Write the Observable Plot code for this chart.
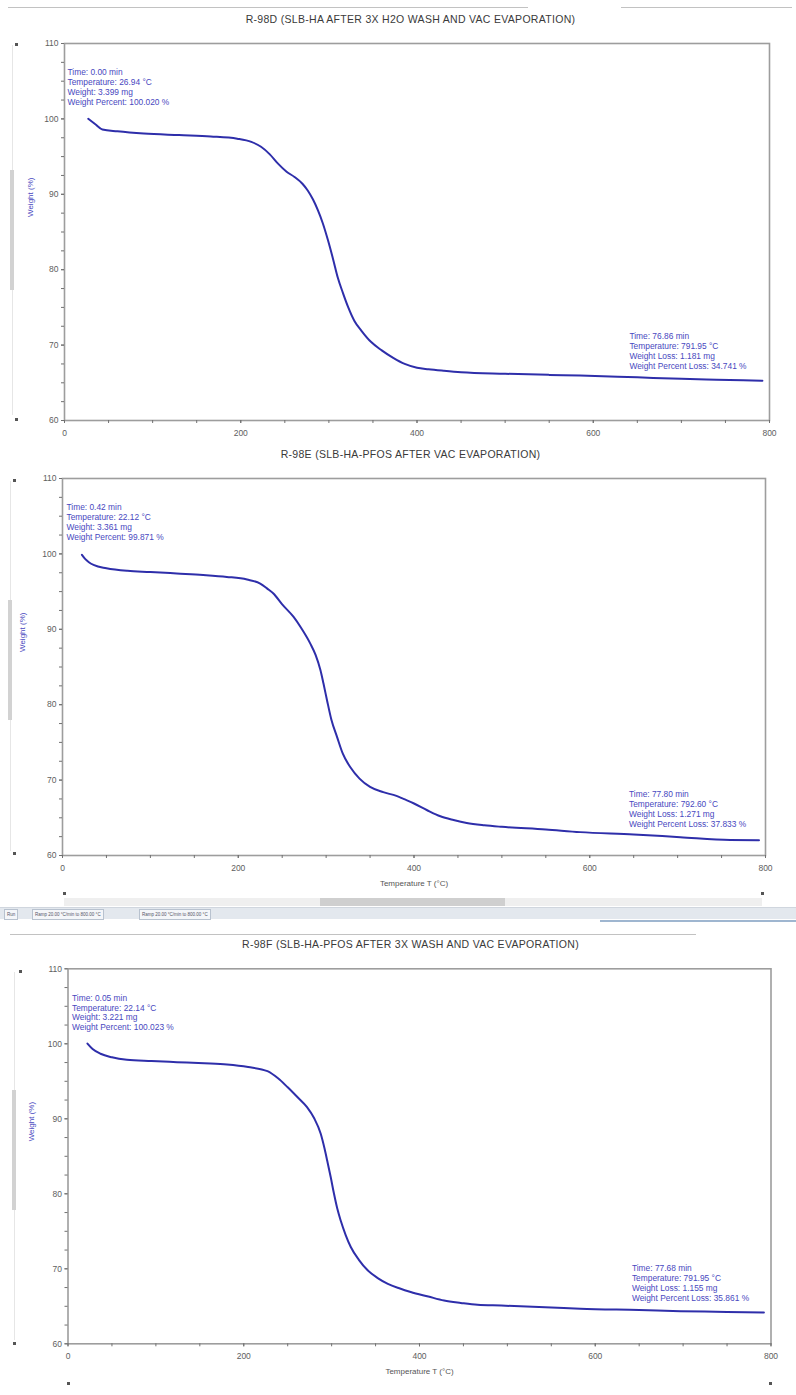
<!DOCTYPE html>
<html>
<head>
<meta charset="utf-8">
<script src="https://cdn.jsdelivr.net/npm/d3@7"></script>
<script src="https://cdn.jsdelivr.net/npm/@observablehq/plot@0.6"></script>
<style>
  body { margin: 0; background: #fff; }
  #page { position: relative; width: 796px; height: 1395px; overflow: hidden; background: #fff;
          font-family: "Liberation Sans", Arial, sans-serif; }
  .title { position: absolute; left: 0; width: 821px; text-align: center; font-size: 10.5px;
           letter-spacing: 0.3px; line-height: 12px; color: #3a3a3a; white-space: nowrap; }
  .panel { position: absolute; left: 0; }
  .rule { position: absolute; background: #c2c2c2; height: 1px; }
  .track { position: absolute; width: 1px; background: #e6e6e6; }
  .thumb { position: absolute; width: 4px; background: #d2d2d2; }
  .dot { position: absolute; width: 3px; height: 3px; background: #555; }
  .scroll { position: absolute; background: #efefef; }
  .scroll-thumb { position: absolute; background: #cfcfcf; }
  .taskbar { position: absolute; left: 0; width: 796px; background: #e3e8ee; border-top: 1px solid #d0d6de; }
  .tab { position: absolute; top: 1px; height: 9px; font-size: 4.5px; line-height: 9px; color: #556;
         border: 1px solid #b8c2cf; background: #f4f6f9; padding: 0 2px; white-space: nowrap; }
</style>
</head>
<body>
<div id="page"></div>
<script>
// ---- chart text ----
const titles = [
  "R-98D (SLB-HA AFTER 3X H2O WASH AND VAC EVAPORATION)",
  "R-98E (SLB-HA-PFOS AFTER VAC EVAPORATION)",
  "R-98F (SLB-HA-PFOS AFTER 3X WASH AND VAC EVAPORATION)"
];
const yAxisLabel = "Weight (%)";
const xAxisLabel = "Temperature T (°C)";

// ---- axis ticks ----
const yMajor = [60, 70, 80, 90, 100, 110];
const yMinor = [60, 62.5, 65, 67.5, 70, 72.5, 75, 77.5, 80, 82.5, 85, 87.5, 90, 92.5, 95, 97.5, 100, 102.5, 105, 107.5, 110];
const xMajor = [0, 200, 400, 600, 800];
const xMinor = [0, 50, 100, 150, 200, 250, 300, 350, 400, 450, 500, 550, 600, 650, 700, 750, 800];

// ---- R-98D: temperature (°C) and weight (%) ----
const r98dTemp = [26.94, 35, 43, 60, 90, 130, 166, 196, 212, 223, 233, 242, 252, 261, 270, 276, 282, 287.5, 293, 299,
  305, 310, 316, 322, 329, 337, 348, 360, 373, 386, 400, 413, 430, 450, 500, 550, 585, 650, 700, 740, 770, 791.95];
const r98dWeight = [100.02, 99.3, 98.6, 98.35, 98.05, 97.85, 97.68, 97.38, 96.95, 96.3, 95.3, 94.1, 93.0, 92.3, 91.4, 90.5,
  89.3, 87.9, 86.2, 83.9, 81.3, 79.0, 76.9, 75.0, 73.2, 71.9, 70.4, 69.3, 68.3, 67.5, 67.0, 66.8, 66.6, 66.4, 66.2,
  66.05, 65.97, 65.72, 65.53, 65.42, 65.34, 65.279];
const r98dStart = ["Time: 0.00 min", "Temperature: 26.94 °C", "Weight: 3.399 mg", "Weight Percent: 100.020 %"];
const r98dEnd = ["Time: 76.86 min", "Temperature: 791.95 °C", "Weight Loss: 1.181 mg", "Weight Percent Loss: 34.741 %"];

// ---- R-98E ----
const r98eTemp = [22.12, 26, 30, 36, 50, 74, 100, 130, 160, 187, 210, 225, 233, 240, 250, 263, 272, 282, 288, 293.5,
  297, 301, 306, 312.5, 319, 327.6, 338, 350, 365, 380, 388, 400, 415, 430, 445, 460, 480, 500, 550, 589, 650, 703, 760, 792.6];
const r98eWeight = [99.871, 99.3, 98.9, 98.5, 98.1, 97.75, 97.6, 97.4, 97.2, 96.95, 96.6, 96.07, 95.4, 94.75, 93.3, 91.64,
  90.1, 88.1, 86.6, 84.6, 82.8, 80.6, 78.0, 75.7, 73.5, 71.7, 70.2, 69.1, 68.4, 67.9, 67.5, 66.9, 66.0, 65.2, 64.7,
  64.3, 64.0, 63.8, 63.45, 63.1, 62.8, 62.43, 62.05, 62.038];
const r98eStart = ["Time: 0.42 min", "Temperature: 22.12 °C", "Weight: 3.361 mg", "Weight Percent: 99.871 %"];
const r98eEnd = ["Time: 77.80 min", "Temperature: 792.60 °C", "Weight Loss: 1.271 mg", "Weight Percent Loss: 37.833 %"];

// ---- R-98F ----
const r98fTemp = [22.14, 28, 37, 50, 67, 95, 124, 155, 181, 205, 227, 239, 250, 261, 272, 280, 287.6, 292, 295, 299,
  302.7, 306.5, 310.4, 316, 321.8, 331, 341, 352, 364, 377, 390, 410, 428, 447, 466, 493, 550, 583, 650, 697, 750, 791.95];
const r98fWeight = [100.023, 99.3, 98.67, 98.2, 97.87, 97.7, 97.55, 97.4, 97.24, 96.9, 96.35, 95.4, 94.2, 92.9, 91.55,
  90.1, 88.0, 86.0, 84.4, 82.2, 80.0, 78.0, 76.4, 74.5, 72.9, 71.2, 69.8, 68.8, 68.0, 67.4, 66.9, 66.3, 65.77, 65.45,
  65.2, 65.1, 64.85, 64.67, 64.5, 64.35, 64.25, 64.162];
const r98fStart = ["Time: 0.05 min", "Temperature: 22.14 °C", "Weight: 3.221 mg", "Weight Percent: 100.023 %"];
const r98fEnd = ["Time: 77.68 min", "Temperature: 791.95 °C", "Weight Loss: 1.155 mg", "Weight Percent Loss: 35.861 %"];

// ---- styling ----
const FONT = "'Liberation Sans', Arial, sans-serif";
const LINE = "#2e2eaa";
const BLUE = "#4848c0";
const AXIS = "#707070";

const page = document.getElementById("page");

function add(cls, css, text) {
  const el = document.createElement("div");
  el.className = cls;
  Object.assign(el.style, css);
  if (text) el.textContent = text;
  page.appendChild(el);
  return el;
}

// panel layout: svg top, frame box, label offsets
const panels = [
  { title: titles[0], titleTop: 13, temp: r98dTemp, weight: r98dWeight, start: r98dStart, end: r98dEnd,
    top: 25, mt: 18, plotH: 377, mb: 30, left: 64, right: 769, ylab: 34, sdx: 3, edx: -133, edy: -30, xLabel: false },
  { title: titles[1], titleTop: 448, temp: r98eTemp, weight: r98eWeight, start: r98eStart, end: r98eEnd,
    top: 462, mt: 16, plotH: 377, mb: 40, left: 62, right: 765, ylab: 40, sdx: 4, edx: -130, edy: -31, xLabel: true },
  { title: titles[2], titleTop: 938, temp: r98fTemp, weight: r98fWeight, start: r98fStart, end: r98fEnd,
    top: 950, mt: 18.3, plotH: 375, mb: 40, left: 67.5, right: 770.5, ylab: 37, sdx: 4, edx: -132, edy: -30, xLabel: true }
];

for (const p of panels) {
  add("title", { top: p.titleTop + "px" }, p.title);

  const data = p.temp.map((t, i) => ({ t, w: p.weight[i] }));
  const last = data[data.length - 1];

  const chart = Plot.plot({
    width: 796,
    height: p.mt + p.plotH + p.mb,
    marginTop: p.mt,
    marginBottom: p.mb,
    marginLeft: p.left,
    marginRight: 796 - p.right,
    x: { domain: [0, 800] },
    y: { domain: [60, 110] },
    style: { fontFamily: FONT, fontSize: "8.5px", color: "#5e5e5e", background: "transparent", overflow: "visible" },
    marks: [
      Plot.frame({ stroke: "#9d9d9d", strokeWidth: 1.6 }),
      Plot.axisY(yMinor, { tickSize: 3, stroke: AXIS, fill: "none", label: null }),
      Plot.axisY(yMajor, { tickSize: 3, tickPadding: 3, stroke: AXIS, fill: "#5e5e5e", label: null }),
      Plot.axisX(xMinor, { tickSize: 3, stroke: AXIS, fill: "none", label: null }),
      Plot.axisX(xMajor, { tickSize: 3, tickPadding: 6, stroke: AXIS, fill: "#5e5e5e", label: null }),
      Plot.line(data, { x: "t", y: "w", stroke: LINE, strokeWidth: 2, curve: "monotone-x" }),
      Plot.text([yAxisLabel], { text: d => d, frameAnchor: "left", dx: -p.ylab, dy: -15, rotate: -90,
        fill: BLUE, fontSize: 8 }),
      p.xLabel ? Plot.text([xAxisLabel], { text: d => d, frameAnchor: "bottom", dy: 30, fill: "#555", fontSize: 8 }) : null,
      Plot.text([p.start.join("\n")], { text: d => d, frameAnchor: "top-left", dx: p.sdx, dy: 43.5,
        textAnchor: "start", lineAnchor: "middle", lineHeight: 1.19, fill: BLUE, fontSize: 8.4 }),
      Plot.text([last], { x: "t", y: "w", text: () => p.end.join("\n"), dx: p.edx, dy: p.edy,
        textAnchor: "start", lineAnchor: "middle", lineHeight: 1.19, fill: BLUE, fontSize: 8.4 })
    ]
  });
  chart.classList.add("panel");
  chart.style.top = p.top + "px";
  page.appendChild(chart);
}

// window chrome around the charts
add("rule", { top: "7px", left: "8px", width: "520px" });
add("rule", { top: "7px", left: "621px", width: "171px" });
add("rule", { top: "934px", left: "10px", width: "686px" });

// left-hand sliders
[[12, 45, 370, 10, 170], [10, 481, 370, 8, 600], [14, 972, 368, 12, 1090]].forEach(([x, y, h, tx, ty]) => {
  add("track", { left: x + "px", top: y + "px", height: h + "px" });
  add("thumb", { left: tx + "px", top: ty + "px", height: "120px" });
});
[[15, 43], [15, 418], [13, 479], [13, 852], [19, 970], [13, 1342]].forEach(([x, y]) => add("dot", { left: x + "px", top: y + "px" }));

// horizontal scroll bar under the middle chart
add("scroll", { left: "64px", top: "898px", width: "698px", height: "8px" });
add("scroll-thumb", { left: "320px", top: "898px", width: "185px", height: "8px" });
[[63, 892], [761, 892], [67, 1382], [769, 1382]].forEach(([x, y]) => add("dot", { left: x + "px", top: y + "px" }));

// run/segment tab strip
const bar = add("taskbar", { top: "907px", height: "11px" });
[["Run", 4], ["Ramp 20.00 °C/min to 800.00 °C", 32], ["Ramp 20.00 °C/min to 800.00 °C", 139]].forEach(([t, x]) => {
  const tab = document.createElement("div");
  tab.className = "tab";
  tab.style.left = x + "px";
  tab.textContent = t;
  bar.appendChild(tab);
});
add("rule", { top: "920px", left: "600px", width: "196px", height: "2px", background: "#9fb6d0" });
</script>
</body>
</html>
